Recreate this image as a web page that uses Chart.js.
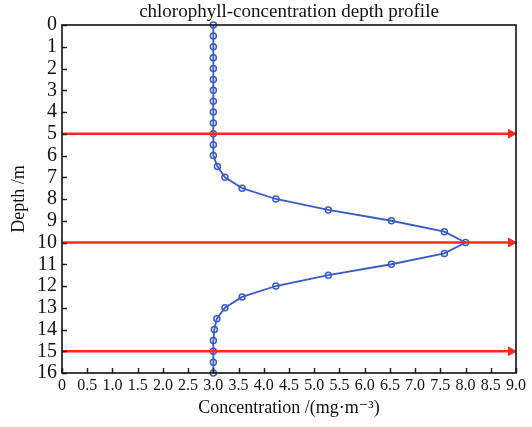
<!DOCTYPE html>
<html>
<head>
<meta charset="utf-8">
<script src="https://cdn.jsdelivr.net/npm/chart.js@4"></script>
<style>
  html, body { margin: 0; padding: 0; background: #ffffff; }
  #wrap { width: 532px; height: 427px; }
</style>
</head>
<body>
<div id="wrap"><canvas id="c" width="532" height="427"></canvas></div>
<script>
// Depth (m) of each sample
const depths = [0, 0.5, 1, 1.5, 2, 2.5, 3, 3.5, 4, 4.5, 5, 5.5, 6, 6.5, 7, 7.5, 8,
                8.5, 9, 9.5, 10, 10.5, 11, 11.5, 12, 12.5, 13, 13.5, 14, 14.5, 15, 15.5, 16];
// Chlorophyll concentration (mg·m^-3) at each depth
const concentration = [3.0, 3.0, 3.0, 3.0, 3.0, 3.0, 3.0, 3.0, 3.0, 3.0, 3.0, 3.0, 3.0,
                       3.08, 3.23, 3.57, 4.24, 5.28, 6.53, 7.58, 8.0, 7.58, 6.53, 5.28,
                       4.24, 3.57, 3.23, 3.07, 3.02, 3.0, 3.0, 3.0, 3.0];
// Depths of the red reference arrows
const arrowDepths = [5, 10, 15];
const arrowStart = 0;
const arrowEnd = 9.0;
const arrowHeadAt = 8.9;
// Axis tick labels
const xTickLabels = ['0', '0.5', '1.0', '1.5', '2.0', '2.5', '3.0', '3.5', '4.0', '4.5', '5.0',
                     '5.5', '6.0', '6.5', '7.0', '7.5', '8.0', '8.5', '9.0'];
const yTickLabels = ['0','1','2','3','4','5','6','7','8','9','10','11','12','13','14','15','16'];

const SERIF = '"Liberation Serif", "DejaVu Serif", serif';

const profile = depths.map((d, i) => ({ x: concentration[i], y: d }));

const arrowSets = arrowDepths.map(d => ({
  data: [{ x: arrowStart, y: d }, { x: arrowHeadAt, y: d }, { x: arrowEnd, y: d }],
  showLine: true,
  borderColor: '#ff2a1f',
  backgroundColor: '#ff2a1f',
  borderWidth: 2.6,
  pointRadius: [0, 5, 0],
  pointStyle: 'triangle',
  rotation: 90,
  pointBorderWidth: 1,
  pointBorderColor: '#ff2a1f',
  pointBackgroundColor: '#ff2a1f',
  order: 0,
  clip: false
}));

const frameAndTicks = {
  id: 'frameAndTicks',
  afterDatasetsDraw(chart) {
    const { ctx, chartArea: a, scales } = chart;
    ctx.save();
    ctx.strokeStyle = '#222';
    ctx.lineWidth = 1.5;
    ctx.beginPath();
    for (let i = 0; i < xTickLabels.length; i++) {
      const px = Math.round(scales.x.getPixelForValue(i * 0.5)) + 0.5;
      ctx.moveTo(px, a.bottom);
      ctx.lineTo(px, a.bottom - 5);
    }
    for (let i = 0; i < yTickLabels.length; i++) {
      const py = Math.round(scales.y.getPixelForValue(i)) + 0.5;
      ctx.moveTo(a.left, py);
      ctx.lineTo(a.left + 5, py);
    }
    ctx.stroke();
    ctx.lineWidth = 1.6;
    ctx.strokeStyle = '#111';
    ctx.strokeRect(a.left, a.top, a.right - a.left, a.bottom - a.top);
    ctx.restore();
  }
};

new Chart(document.getElementById('c'), {
  type: 'scatter',
  data: {
    datasets: [
      ...arrowSets,
      {
        data: profile,
        showLine: true,
        borderColor: '#3a5cc0',
        borderWidth: 1.8,
        pointRadius: 3,
        pointBorderWidth: 1.5,
        pointBorderColor: '#3a5cc0',
        pointBackgroundColor: 'rgba(255,255,255,0)',
        order: 1,
        clip: false
      }
    ]
  },
  options: {
    responsive: false,
    animation: false,
    layout: { padding: { left: 8, right: 16, top: 0, bottom: 8 } },
    plugins: {
      legend: { display: false },
      tooltip: { enabled: false },
      title: {
        display: true,
        text: 'chlorophyll-concentration depth profile',
        fullSize: false,
        color: '#111',
        font: { family: SERIF, size: 19, weight: 'normal' },
        padding: { top: 1, bottom: 1.2 }
      }
    },
    scales: {
      x: {
        type: 'linear',
        min: 0, max: 9.0,
        afterBuildTicks(scale) {
          scale.ticks = xTickLabels.map((_, i) => ({ value: i * 0.5 }));
        },
        afterFit(scale) { scale.height = 46; },
        grid: { display: false, drawTicks: false },
        border: { display: false },
        ticks: {
          autoSkip: false, maxRotation: 0, padding: 3, color: '#111',
          font: { family: SERIF, size: 16 },
          callback: (v, i) => xTickLabels[i]
        },
        title: {
          display: true,
          text: 'Concentration /(mg·m⁻³)',
          color: '#111',
          font: { family: SERIF, size: 18 },
          padding: { top: 0, bottom: 0 }
        }
      },
      y: {
        type: 'linear',
        reverse: true,
        min: 0, max: 16,
        afterBuildTicks(scale) {
          scale.ticks = yTickLabels.map((_, i) => ({ value: i }));
        },
        afterFit(scale) { scale.width = 54; },
        grid: { display: false, drawTicks: false },
        border: { display: false },
        ticks: {
          autoSkip: false, padding: 5, color: '#111',
          font: { family: SERIF, size: 20 },
          callback: (v, i) => yTickLabels[i]
        },
        title: {
          display: true,
          text: 'Depth /m',
          color: '#111',
          font: { family: SERIF, size: 18 },
          padding: { top: 0, bottom: 0 }
        }
      }
    }
  },
  plugins: [frameAndTicks]
});
</script>
</body>
</html>
